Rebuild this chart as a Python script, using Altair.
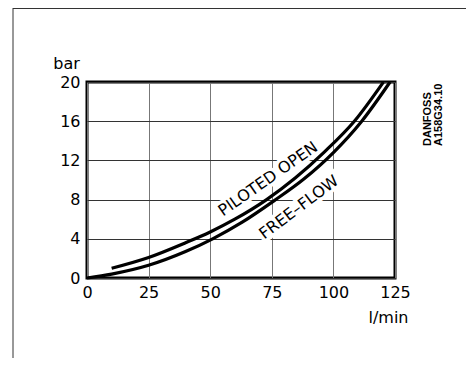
import altair as alt
import pandas as pd

# Pressure drop curves (bar vs l/min)
flow_piloted = [10, 25, 40, 50, 60, 72.9, 84.5, 96.5, 108.5, 120.3]
dp_piloted = [1.0, 2.1, 3.6, 4.7, 6.0, 8.0, 10.2, 12.9, 16.0, 20.0]

flow_free = [0, 10, 25, 40, 51, 63, 76, 88, 100, 111.5, 123]
dp_free = [0, 0.4, 1.3, 2.7, 4.0, 5.7, 7.9, 10.1, 12.8, 16.0, 20.0]

x_ticks = [0, 25, 50, 75, 100, 125]
y_ticks = [0, 4, 8, 12, 16, 20]

label_text = ["PILOTED OPEN", "FREE\u2013FLOW"]
label_flow = [73.5, 86.0]
label_dp = [10.1, 7.2]
label_angle = [325, 323]

code_lines = ["DANFOSS", "A158G34.10"]

FONT = "DejaVu Sans"

curves = pd.concat([
    pd.DataFrame({"flow": flow_piloted, "dp": dp_piloted, "series": "piloted"}),
    pd.DataFrame({"flow": flow_free, "dp": dp_free, "series": "free"}),
])
labels = pd.DataFrame({"flow": label_flow, "dp": label_dp, "label": label_text, "angle": label_angle})

W, H = 308, 196

x_enc = alt.X("flow:Q",
              scale=alt.Scale(domain=[0, 125], nice=False, zero=True),
              axis=alt.Axis(values=x_ticks, tickCount=12, title="l/min", grid=True,
                            gridColor="#777", gridWidth=1, ticks=False, domain=False,
                            labelFont=FONT, labelFontSize=16, labelColor="black",
                            labelPadding=6, labelFlush=False, labelOverlap=False,
                            titleFont=FONT, titleFontSize=16, titleFontWeight="normal",
                            titleColor="black", titleX=301, titleY=44,
                            titleAlign="center", titleBaseline="alphabetic"))
y_enc = alt.Y("dp:Q",
              scale=alt.Scale(domain=[0, 20], nice=False, zero=True),
              axis=alt.Axis(values=y_ticks, tickCount=12, title="bar", grid=True,
                            gridColor="#333", gridWidth=1, ticks=False, domain=False,
                            labelFont=FONT, labelFontSize=16, labelColor="black",
                            labelPadding=7, labelFlush=False, labelOverlap=False,
                            titleFont=FONT, titleFontSize=16, titleFontWeight="normal",
                            titleColor="black", titleAngle=0, titleX=-21, titleY=-14,
                            titleAlign="center", titleBaseline="alphabetic"))

halo = alt.Chart(labels).mark_text(font=FONT, fontSize=16, color="white", stroke="white",
                                   strokeWidth=7, align="center", baseline="middle").encode(
    x=x_enc, y=y_enc, text="label:N", angle=alt.Angle("angle:Q", scale=None))

lines = alt.Chart(curves).mark_line(color="black", strokeWidth=3.2, interpolate="monotone",
                                    strokeCap="butt").encode(
    x=x_enc, y=y_enc, detail="series:N")

text = alt.Chart(labels).mark_text(font=FONT, fontSize=16, color="black",
                                   align="center", baseline="middle").encode(
    x=x_enc, y=y_enc, text="label:N", angle=alt.Angle("angle:Q", scale=None))

one = pd.DataFrame({"a": [0]})

code1 = alt.Chart(one).mark_text(text=code_lines[0], font="Liberation Sans", fontSize=11,
                                 fontWeight="bold", angle=270, align="left",
                                 baseline="middle", color="black").encode(
    x=alt.value(341), y=alt.value(64))
code2 = alt.Chart(one).mark_text(text=code_lines[1], font="Liberation Sans", fontSize=11,
                                 fontWeight="bold", angle=270, align="left",
                                 baseline="middle", color="black").encode(
    x=alt.value(352), y=alt.value(64))

frame_v = alt.Chart(one).mark_rule(color="#333", strokeWidth=1).encode(
    x=alt.value(-74), y=alt.value(-74), y2=alt.value(276))
frame_h = alt.Chart(one).mark_rule(color="#333", strokeWidth=1).encode(
    y=alt.value(-73.5), x=alt.value(-74), x2=alt.value(379))

chart = alt.layer(halo, lines, text, code1, code2, frame_v, frame_h).properties(
    width=W, height=H,
    background="white",
    autosize=alt.AutoSizeParams(type="none"),
    padding={"left": 79, "top": 74, "right": 71, "bottom": 80},
).configure_view(stroke="black", strokeWidth=3)

chart.save("out.html", embed_options={"renderer": "svg", "actions": False})
